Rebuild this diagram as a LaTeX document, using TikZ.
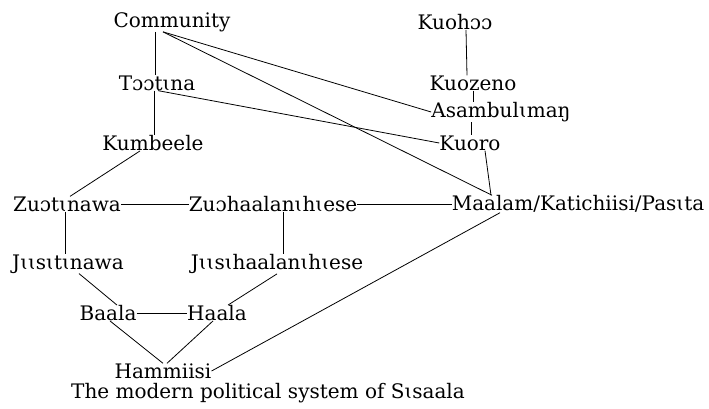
\documentclass[tikz,border=0pt]{standalone}
\usepackage{fontspec}
\newfontfamily\sisfont{DejaVu Serif}
\usepackage{tikz}
\usetikzlibrary{positioning}
\tikzset{
  word/.style={inner sep=0pt, font=\sisfont\fontsize{20}{23}\selectfont, text=black},
  link/.style={draw=black, line width=0.8pt}
}

\begin{document}
\begin{tikzpicture}[x=1pt, y=-1pt]
  \useasboundingbox (0,0) rectangle (709,408);
  \node[word] (community) at (172,22) {Community};
  \node[word] (kuohoo) at (455,22) {Kuohɔɔ};
  \node[word] (tootina) at (157,83) {Tɔɔtɩna};
  \node[word] (kuozeno) at (473,83) {Kuozeno};
  \node[word] (asambu) at (501,112) {Asambulɩmaŋ};
  \node[word] (kumbeele) at (153,143) {Kumbeele};
  \node[word] (kuoro) at (470,143) {Kuoro};
  \node[word] (zuotinawa) at (67,204) {Zuɔtɩnawa};
  \node[word] (zuohaala) at (273,204) {Zuɔhaalanɩhɩese};
  \node[word] (maalam) at (578,204) {Maalam/Katichiisi/Pasɩta};
  \node[word] (jiisitinawa) at (68,264) {Jɩɩsɩtɩnawa};
  \node[word] (jiisihaala) at (277,264) {Jɩɩsɩhaalanɩhɩese};
  \node[word] (baala) at (108,313) {Baala};
  \node[word] (haala) at (217,313) {Haala};
  \node[word] (hammiisi) at (163,371) {Hammiisi};
  \node[word] (caption) at (268,393) {The modern political system of Sɩsaala};

  % upper part
  \draw[link] ([xshift=-17]community.south) -- ([xshift=-2]tootina.north);
  \draw[link] ([xshift=-9]community.south) -- (asambu.west);
  \draw[link] ([xshift=-9]community.south) -- ([xshift=-86]maalam.north);
  \draw[link] ([xshift=-3]tootina.south) -- ([xshift=1]kumbeele.north);
  \draw[link] ([xshift=1]tootina.south) -- (kuoro.west);
  \draw[link] ([xshift=-13]kumbeele.south) -- ([xshift=3]zuotinawa.north);
  \draw[link] ([xshift=11]kuohoo.south) -- ([xshift=-6]kuozeno.north);
  \draw[link] ([xshift=0]kuozeno.south) -- ([xshift=-28]asambu.north);
  \draw[link] ([xshift=-30]asambu.south) -- ([xshift=1]kuoro.north);
  \draw[link] ([xshift=15]kuoro.south) -- ([xshift=-87]maalam.north);

  % middle rows
  \draw[link] (zuotinawa.east) -- (zuohaala.west);
  \draw[link] (zuohaala.east) -- (maalam.west);
  \draw[link] ([xshift=-2]zuotinawa.south) -- ([xshift=-3]jiisitinawa.north);
  \draw[link] ([xshift=10]zuohaala.south) -- ([xshift=6]jiisihaala.north);
  \draw[link] ([xshift=11]jiisitinawa.south) -- ([xshift=9]baala.north);
  \draw[link] (jiisihaala.south) -- ([xshift=11]haala.north);

  % bottom
  \draw[link] (baala.east) -- (haala.west);
  \draw[link] ([xshift=2]baala.south) -- ([xshift=0]hammiisi.north);
  \draw[link] ([xshift=-4]haala.south) -- ([xshift=4]hammiisi.north);
  \draw[link] ([xshift=-78]maalam.south) -- (hammiisi.east);
\end{tikzpicture}
\end{document}
